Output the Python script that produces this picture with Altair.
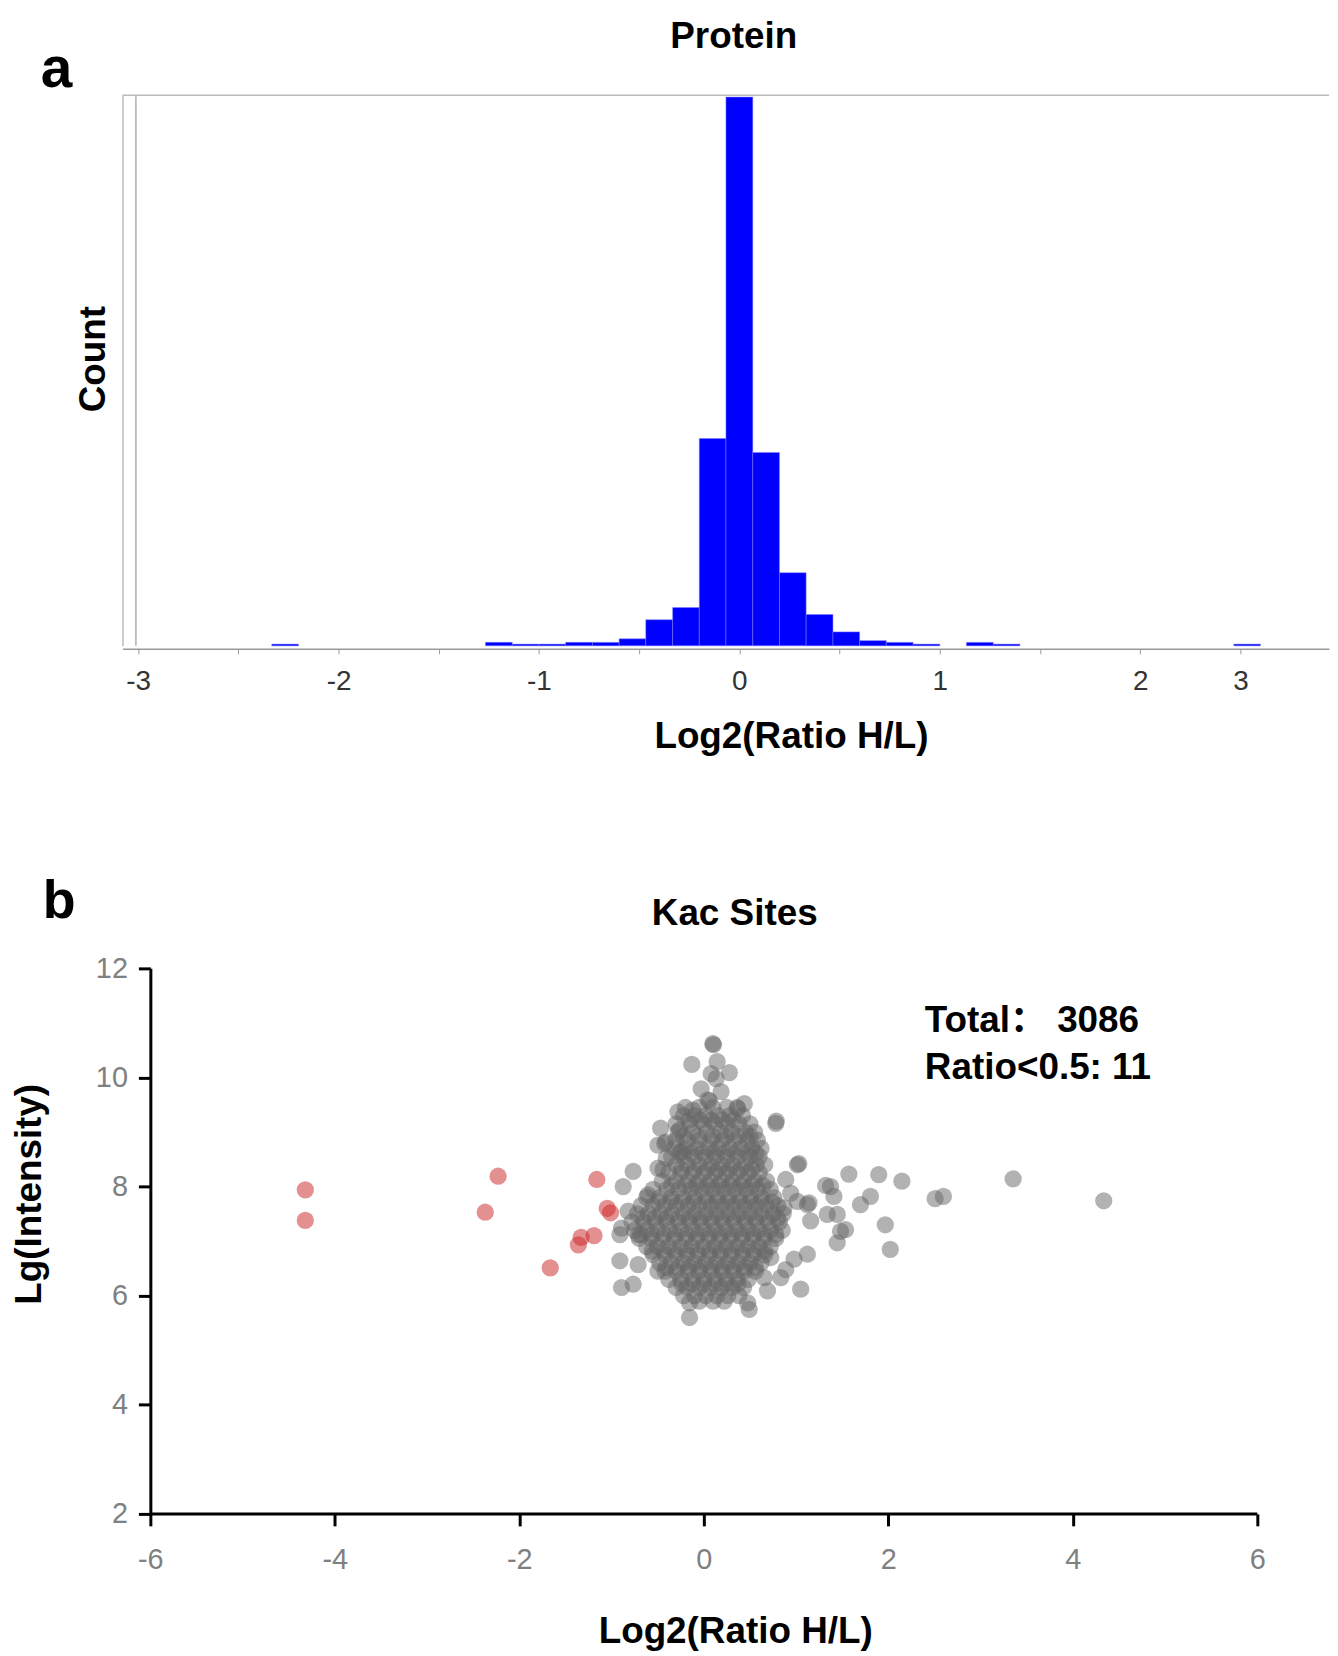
import json
import altair as alt
import pandas as pd

FONT = "Liberation Sans, Arial, Helvetica, Noto Sans CJK SC, sans-serif"

# ---------------- panel a: protein histogram ----------------
bin_lo = [-2.333, -1.267, -1.133, -1.0, -0.867, -0.733, -0.6, -0.467, -0.333, -0.2,
          -0.067, 0.067, 0.2, 0.333, 0.467, 0.6, 0.733, 0.867, 1.133, 1.267, 2.467]
bin_hi = [-2.2, -1.133, -1.0, -0.867, -0.733, -0.6, -0.467, -0.333, -0.2, -0.067,
          0.067, 0.2, 0.333, 0.467, 0.6, 0.733, 0.867, 1.0, 1.267, 1.4, 2.6]
bin_count = [1, 2, 1, 1, 2, 2, 4, 15, 22, 119, 315, 111, 42, 18, 8, 3, 2, 1, 2, 1, 1]
hist_tick_values = [-3, -2.5, -2, -1.5, -1, -0.5, 0, 0.5, 1, 1.5, 2, 2.5]
hist_tick_labels = ["-3", "", "-2", "", "-1", "", "0", "", "1", "", "2", "3"]

# ---------------- panel b: Kac sites scatter ----------------
scatter_tick_x = [-6, -4, -2, 0, 2, 4, 6]
scatter_tick_x_labels = ["-6", "-4", "-2", "0", "2", "4", "6"]
scatter_tick_y = [2, 4, 6, 8, 10, 12]

red_pts = [(-4.32, 7.94), (-4.32, 7.38), (-2.23, 8.19), (-2.37, 7.53), (-1.16, 8.13),
           (-1.047, 7.60), (-1.011, 7.52), (-1.33, 7.07), (-1.36, 6.93), (-1.19, 7.10),
           (-1.665, 6.51)]

gray_outer = [
    (0.097, 10.62), (0.105, 10.60), (-0.13, 10.24), (0.144, 10.29), (0.277, 10.09),
    (0.079, 10.07), (0.133, 9.98), (-0.029, 9.79), (0.187, 9.74), (-0.281, 9.37),
    (-0.119, 9.40), (0.043, 9.59), (0.06, 9.57), (0.439, 9.52), (0.367, 9.43),
    (0.78, 9.16), (0.785, 9.20), (-0.468, 9.07), (-0.263, 9.04), (-0.425, 8.79),
    (-0.41, 8.82), (-0.497, 8.76), (-0.245, 8.64), (-0.407, 8.52), (-0.443, 8.31),
    (-0.766, 8.28), (-0.874, 8.00), (-0.497, 8.34), (1.014, 8.40), (1.03, 8.42),
    (0.888, 8.13), (0.942, 7.88), (1.572, 8.23), (1.896, 8.22), (2.147, 8.10),
    (1.32, 8.02), (1.374, 8.00), (1.41, 7.82), (-0.605, 7.85), (-0.82, 7.55),
    (-0.892, 7.24), (-0.91, 7.12), (-0.712, 7.12), (-0.91, 6.64), (-0.712, 6.57),
    (-0.892, 6.15), (-0.766, 6.21), (-0.497, 6.45), (-0.155, 5.87), (-0.155, 5.60),
    (0.475, 5.87), (0.492, 5.75), (0.69, 6.09), (1.05, 6.12), (0.834, 6.33),
    (1.806, 7.82), (1.698, 7.67), (1.967, 7.30), (2.021, 6.85), (1.446, 7.49),
    (1.482, 7.18), (1.446, 6.97), (1.536, 7.21), (1.338, 7.49), (1.122, 7.67),
    (1.14, 7.70), (1.158, 7.37), (1.122, 6.76), (0.978, 6.67), (0.888, 6.48),
    (0.726, 6.70), (0.654, 6.33), (0.87, 7.61), (1.014, 7.73), (2.507, 7.78),
    (2.597, 7.82), (3.353, 8.14), (4.335, 7.74),
]

gray_core = [
    (-0.2, 9.45), (-0.05, 9.45), (0.1, 9.45), (0.25, 9.45), (0.36, 9.45),
    (-0.22, 9.3), (-0.1, 9.3), (0.02, 9.3), (0.15, 9.3), (0.28, 9.3), (0.42, 9.3),
    (-0.3, 9.15), (-0.15, 9.15), (0.0, 9.15), (0.12, 9.15), (0.25, 9.15), (0.38, 9.15), (0.5, 9.15),
    (-0.28, 9.0), (-0.12, 9.0), (0.03, 9.0), (0.18, 9.0), (0.3, 9.0), (0.45, 9.0), (0.55, 9.0),
    (-0.3, 8.85), (-0.18, 8.85), (-0.05, 8.85), (0.08, 8.85), (0.2, 8.85), (0.33, 8.85), (0.47, 8.85), (0.58, 8.85),
    (-0.32, 8.7), (-0.2, 8.7), (-0.08, 8.7), (0.05, 8.7), (0.16, 8.7), (0.28, 8.7), (0.4, 8.7), (0.52, 8.7), (0.62, 8.7),
    (-0.35, 8.55), (-0.22, 8.55), (-0.1, 8.55), (0.02, 8.55), (0.13, 8.55), (0.25, 8.55), (0.37, 8.55), (0.5, 8.55), (0.6, 8.55),
    (-0.3, 8.4), (-0.18, 8.4), (-0.05, 8.4), (0.08, 8.4), (0.2, 8.4), (0.32, 8.4), (0.45, 8.4), (0.57, 8.4), (0.66, 8.4),
    (-0.38, 8.25), (-0.25, 8.25), (-0.12, 8.25), (0.0, 8.25), (0.12, 8.25), (0.24, 8.25), (0.36, 8.25), (0.48, 8.25), (0.6, 8.25),
    (-0.45, 8.1), (-0.3, 8.1), (-0.17, 8.1), (-0.05, 8.1), (0.07, 8.1), (0.19, 8.1), (0.31, 8.1), (0.43, 8.1), (0.55, 8.1), (0.68, 8.1),
    (-0.55, 7.95), (-0.4, 7.95), (-0.27, 7.95), (-0.14, 7.95), (-0.02, 7.95), (0.1, 7.95), (0.22, 7.95), (0.34, 7.95), (0.46, 7.95), (0.58, 7.95), (0.72, 7.95),
    (-0.62, 7.8), (-0.48, 7.8), (-0.35, 7.8), (-0.22, 7.8), (-0.1, 7.8), (0.03, 7.8), (0.15, 7.8), (0.27, 7.8), (0.39, 7.8), (0.51, 7.8), (0.63, 7.8), (0.76, 7.8),
    (-0.68, 7.65), (-0.55, 7.65), (-0.42, 7.65), (-0.3, 7.65), (-0.17, 7.65), (-0.05, 7.65), (0.08, 7.65), (0.2, 7.65), (0.32, 7.65), (0.44, 7.65), (0.56, 7.65), (0.68, 7.65), (0.8, 7.65),
    (-0.72, 7.5), (-0.6, 7.5), (-0.47, 7.5), (-0.35, 7.5), (-0.22, 7.5), (-0.1, 7.5), (0.02, 7.5), (0.14, 7.5), (0.26, 7.5), (0.38, 7.5), (0.5, 7.5), (0.62, 7.5), (0.75, 7.5), (0.86, 7.5),
    (-0.78, 7.35), (-0.65, 7.35), (-0.52, 7.35), (-0.4, 7.35), (-0.27, 7.35), (-0.15, 7.35), (-0.03, 7.35), (0.09, 7.35), (0.21, 7.35), (0.33, 7.35), (0.45, 7.35), (0.57, 7.35), (0.7, 7.35), (0.82, 7.35),
    (-0.75, 7.2), (-0.62, 7.2), (-0.5, 7.2), (-0.37, 7.2), (-0.25, 7.2), (-0.12, 7.2), (0.0, 7.2), (0.12, 7.2), (0.24, 7.2), (0.36, 7.2), (0.48, 7.2), (0.6, 7.2), (0.72, 7.2), (0.85, 7.2),
    (-0.7, 7.05), (-0.57, 7.05), (-0.45, 7.05), (-0.32, 7.05), (-0.2, 7.05), (-0.08, 7.05), (0.05, 7.05), (0.17, 7.05), (0.29, 7.05), (0.41, 7.05), (0.53, 7.05), (0.65, 7.05), (0.78, 7.05),
    (-0.62, 6.9), (-0.5, 6.9), (-0.38, 6.9), (-0.25, 6.9), (-0.13, 6.9), (0.0, 6.9), (0.12, 6.9), (0.24, 6.9), (0.36, 6.9), (0.48, 6.9), (0.6, 6.9), (0.72, 6.9),
    (-0.55, 6.75), (-0.42, 6.75), (-0.3, 6.75), (-0.18, 6.75), (-0.06, 6.75), (0.06, 6.75), (0.18, 6.75), (0.3, 6.75), (0.42, 6.75), (0.54, 6.75), (0.66, 6.75),
    (-0.48, 6.6), (-0.35, 6.6), (-0.22, 6.6), (-0.1, 6.6), (0.02, 6.6), (0.14, 6.6), (0.26, 6.6), (0.38, 6.6), (0.5, 6.6), (0.62, 6.6),
    (-0.42, 6.45), (-0.3, 6.45), (-0.17, 6.45), (-0.05, 6.45), (0.08, 6.45), (0.2, 6.45), (0.32, 6.45), (0.44, 6.45), (0.56, 6.45),
    (-0.38, 6.3), (-0.25, 6.3), (-0.12, 6.3), (0.0, 6.3), (0.12, 6.3), (0.24, 6.3), (0.36, 6.3), (0.48, 6.3),
    (-0.3, 6.15), (-0.18, 6.15), (-0.05, 6.15), (0.07, 6.15), (0.19, 6.15), (0.31, 6.15), (0.43, 6.15),
    (-0.22, 6.0), (-0.1, 6.0), (0.02, 6.0), (0.14, 6.0), (0.26, 6.0), (0.38, 6.0),
    (-0.05, 5.9), (0.1, 5.9), (0.22, 5.9),
]

gray_center = [
    (-0.16, 9.22), (-0.04, 9.22), (0.08, 9.22), (0.2, 9.22), (0.32, 9.22),
    (-0.22, 8.92), (-0.06, 8.92), (0.1, 8.92), (0.24, 8.92), (0.38, 8.92), (0.5, 8.92),
    (-0.26, 8.62), (-0.14, 8.62), (-0.02, 8.62), (0.1, 8.62), (0.22, 8.62), (0.34, 8.62), (0.46, 8.62), (0.56, 8.62),
    (-0.24, 8.32), (-0.1, 8.32), (0.04, 8.32), (0.16, 8.32), (0.28, 8.32), (0.4, 8.32), (0.52, 8.32),
    (-0.35, 8.02), (-0.2, 8.02), (-0.08, 8.02), (0.04, 8.02), (0.16, 8.02), (0.28, 8.02), (0.4, 8.02), (0.52, 8.02), (0.64, 8.02),
    (-0.5, 7.72), (-0.36, 7.72), (-0.24, 7.72), (-0.11, 7.72), (0.02, 7.72), (0.14, 7.72), (0.26, 7.72), (0.38, 7.72), (0.5, 7.72), (0.62, 7.72), (0.74, 7.72),
    (-0.66, 7.42), (-0.53, 7.42), (-0.41, 7.42), (-0.28, 7.42), (-0.16, 7.42), (-0.04, 7.42), (0.08, 7.42), (0.2, 7.42), (0.32, 7.42), (0.44, 7.42), (0.56, 7.42), (0.68, 7.42), (0.8, 7.42),
    (-0.68, 7.12), (-0.56, 7.12), (-0.43, 7.12), (-0.31, 7.12), (-0.18, 7.12), (-0.06, 7.12), (0.06, 7.12), (0.18, 7.12), (0.3, 7.12), (0.42, 7.12), (0.54, 7.12), (0.66, 7.12), (0.78, 7.12),
    (-0.56, 6.82), (-0.44, 6.82), (-0.32, 6.82), (-0.19, 6.82), (-0.07, 6.82), (0.06, 6.82), (0.18, 6.82), (0.3, 6.82), (0.42, 6.82), (0.54, 6.82), (0.66, 6.82),
    (-0.41, 6.52), (-0.28, 6.52), (-0.16, 6.52), (-0.04, 6.52), (0.08, 6.52), (0.2, 6.52), (0.32, 6.52), (0.44, 6.52), (0.56, 6.52),
    (-0.24, 6.22), (-0.12, 6.22), (0.0, 6.22), (0.13, 6.22), (0.25, 6.22), (0.37, 6.22),
]

# ---------------- helpers ----------------
ONE = pd.DataFrame({"t": [0]})


def text_layer(s, x, y, size, align="left", angle=None, color="black", weight="bold"):
    kw = dict(align=align, baseline="alphabetic", fontSize=size, font=FONT,
              fontWeight=weight, color=color)
    if angle is not None:
        kw["angle"] = angle
    return alt.Chart(pd.DataFrame({"t": [s]})).mark_text(**kw).encode(
        text="t:N", x=alt.value(x), y=alt.value(y))


def marker(x, y):
    # white 1px anchor that fixes the layout extents
    return alt.Chart(ONE).mark_rule(color="white", strokeWidth=1).encode(
        x=alt.value(x), x2=alt.value(x + 1), y=alt.value(y))


# ---------------- panel a ----------------
WA, HA = 1212, 553
hist_df = pd.DataFrame({"lo": bin_lo, "hi": bin_hi, "count": bin_count})
hist_label_expr = (f"{json.dumps(hist_tick_labels)}"
                   f"[indexof({json.dumps(hist_tick_values)}, datum.value)]")

bars = alt.Chart(hist_df).mark_bar(
    color="#0000ff", stroke="#8080ff", strokeWidth=0.5
).encode(
    x=alt.X("lo:Q",
            scale=alt.Scale(domain=[-3.078, 2.942], nice=False, zero=False),
            axis=alt.Axis(values=hist_tick_values, labelExpr=hist_label_expr,
                          title=None, offset=3, tickSize=5, tickColor="#999999",
                          tickWidth=1, domainColor="#999999", domainWidth=1.5,
                          labelFontSize=28, labelColor="#333333", labelFont=FONT,
                          labelPadding=14, labelFlush=False, labelOverlap=False,
                          grid=False)),
    x2="hi:Q",
    y=alt.Y("count:Q",
            scale=alt.Scale(domain=[0, 316], nice=False, zero=True),
            axis=alt.Axis(labels=False, ticks=False, title=None, grid=False,
                          domainColor="#bbbbbb", domainWidth=1.5)),
    y2=alt.datum(0),
)

frame_top = alt.Chart(ONE).mark_rule(color="#bbbbbb", strokeWidth=1.5).encode(
    x=alt.value(0), x2=alt.value(WA), y=alt.value(0))
frame_inner = alt.Chart(ONE).mark_rule(color="#999999", strokeWidth=1.2).encode(
    x=alt.value(13.5), y=alt.value(1), y2=alt.value(HA))

panel_a = alt.layer(
    bars, frame_top, frame_inner,
    text_layer("a", -82, -8, 57),
    text_layer("Protein", 614, -48, 37, align="center"),
    text_layer("Count", -18, 265, 37, align="center", angle=270),
    text_layer("Log2(Ratio H/L)", 672, 656, 37, align="center"),
    marker(-114, -83), marker(-114, 675),
).properties(width=WA, height=HA)

# ---------------- panel b ----------------
WB, HB = 1140, 548
gray_df = pd.DataFrame(gray_outer + gray_core + gray_center, columns=["x", "y"])
red_df = pd.DataFrame(red_pts, columns=["x", "y"])
sx_label_expr = (f"{json.dumps(scatter_tick_x_labels)}"
                 f"[indexof({json.dumps(scatter_tick_x)}, datum.value)]")

xb = alt.X("x:Q", scale=alt.Scale(domain=[-6.302, 6], nice=False, zero=False),
           axis=alt.Axis(values=scatter_tick_x, labelExpr=sx_label_expr, domain=False,
                         tickSize=12, tickWidth=3, tickColor="black",
                         labelFontSize=29, labelColor="#808080", labelFont=FONT,
                         labelPadding=20, labelFlush=False, labelOverlap=False,
                         title=None, grid=False))
yb = alt.Y("y:Q", scale=alt.Scale(domain=[2, 12], nice=False, zero=False),
           axis=alt.Axis(values=scatter_tick_y, offset=-28, domainColor="black",
                         domainWidth=3, tickSize=12, tickWidth=3, tickColor="black",
                         labelFontSize=29, labelColor="#808080", labelFont=FONT,
                         labelPadding=11, labelFlush=False, labelOverlap=False,
                         title=None, grid=False))

gray_layer = alt.Chart(gray_df).mark_circle(size=300, color="#666666", opacity=0.5).encode(x=xb, y=yb)
red_layer = alt.Chart(red_df).mark_circle(size=300, color="#cc2222", opacity=0.5).encode(x="x:Q", y="y:Q")
x_line = alt.Chart(ONE).mark_rule(color="black", strokeWidth=3).encode(
    x=alt.datum(-6), x2=alt.datum(6), y=alt.datum(2))

panel_b = alt.layer(
    gray_layer, red_layer, x_line,
    text_layer("b", -80, -51, 54),
    text_layer("Kac Sites", 615, -44, 37, align="center"),
    text_layer("Lg(Intensity)", -82, 227, 37, align="center", angle=270),
    text_layer("Log2(Ratio H/L)", 616, 678, 37, align="center"),
    text_layer("Total：  3086", 806, 64, 37),
    text_layer("Ratio<0.5: 11", 806, 111, 37),
    marker(-114, -116),
).properties(width=WB, height=HB)

chart = alt.vconcat(panel_a, panel_b, spacing=84).properties(
    padding=0, background="white"
).configure_view(stroke=None)

chart.save("out.html", embed_options={"renderer": "svg", "actions": False})
